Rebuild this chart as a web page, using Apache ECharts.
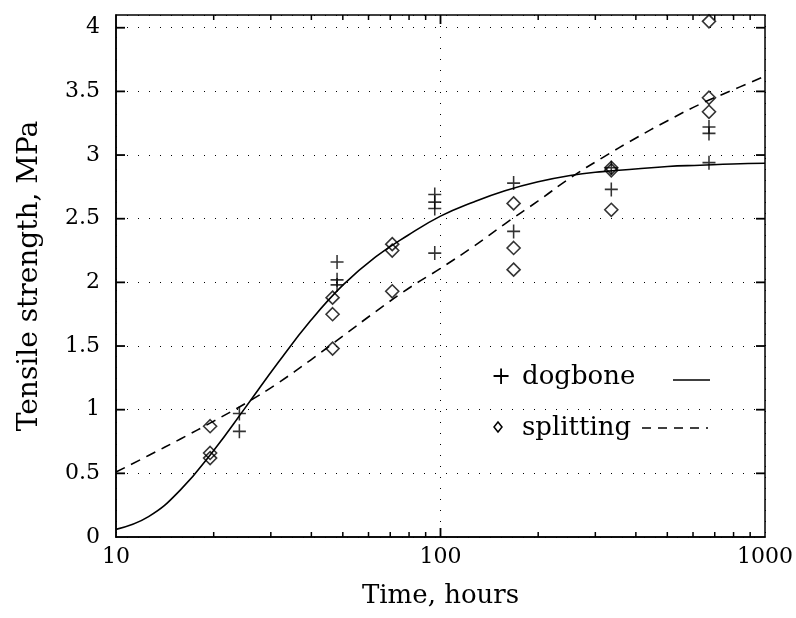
<!DOCTYPE html>
<html><head><meta charset="utf-8">
<script src="https://cdn.jsdelivr.net/npm/echarts@6/dist/echarts.min.js"></script>
<style>html,body{margin:0;padding:0;background:#fff}#c{width:796px;height:618px}</style>
</head><body><div id="c"></div>
<script>
// ---- data ----
const dogboneHours = [24, 24, 48, 48, 48, 96, 96, 96, 96, 168, 168, 336, 336, 672, 672, 672];
const dogboneMPa   = [0.97, 0.83, 2.16, 2.02, 1.98, 2.69, 2.63, 2.58, 2.23, 2.78, 2.40, 2.90, 2.73, 3.22, 3.17, 2.94];
const splittingHours = [19.5, 19.5, 19.5, 46.5, 46.5, 46.5, 71, 71, 71, 168, 168, 168, 336, 336, 336, 672, 672, 672];
const splittingMPa   = [0.87, 0.66, 0.62, 1.88, 1.75, 1.48, 2.30, 2.25, 1.93, 2.62, 2.27, 2.10, 2.90, 2.88, 2.57, 4.05, 3.45, 3.34];
// fitted curves at log-spaced times
const fitHours        = [10, 12.6, 15.8, 20, 25.1, 31.6, 39.8, 50.1, 63.1, 79.4, 100, 126, 158, 200, 251, 316, 398, 501, 631, 794, 1000];
const dogboneFitMPa   = [0.06, 0.16, 0.37, 0.68, 1.02, 1.37, 1.70, 1.98, 2.20, 2.37, 2.52, 2.63, 2.72, 2.79, 2.84, 2.87, 2.89, 2.91, 2.92, 2.93, 2.935];
const splittingFitMPa = [0.51, 0.64, 0.77, 0.91, 1.05, 1.21, 1.39, 1.58, 1.77, 1.95, 2.11, 2.28, 2.46, 2.64, 2.82, 2.98, 3.13, 3.27, 3.40, 3.51, 3.62];
const majorTickHours = [100];
const minorTickHours = [20, 30, 40, 50, 60, 70, 80, 90, 200, 300, 400, 500, 600, 700, 800, 900];
const yTickValues = [0.5, 1, 1.5, 2, 2.5, 3, 3.5, 4];
const xMin = 10, xMax = 1000, yMin = 0, yMax = 4.1, yStep = 0.5;
const xTitle = 'Time, hours';
const yTitle = 'Tensile strength, MPa';
const seriesNames = ['dogbone', 'splitting'];

const zip = (a, b) => a.map((v, i) => [v, b[i]]);
const FONT = 'DejaVu Serif';
const chart = echarts.init(document.getElementById('c'), null, {renderer: 'canvas'});

const plusPath = 'path://M-1,0L1,0M0,-1L0,1';
const diamondPath = 'path://M0,-1L1,0L0,1L-1,0Z';
const dotted = {color: '#000', width: 1, type: [1, 10]};
const black = {color: '#000', width: 1.5};

chart.setOption({
  animation: false,
  backgroundColor: '#fff',
  grid: {left: 116, right: 28, top: 15, bottom: 81, show: true, borderColor: '#000', borderWidth: 1.5, backgroundColor: 'transparent'},
  xAxis: [{
    type: 'log', logBase: 10, min: xMin, max: xMax, position: 'bottom',
    name: xTitle, nameLocation: 'middle', nameGap: 46,
    nameTextStyle: {fontFamily: FONT, fontSize: 26, color: '#000'},
    axisLine: {show: true, lineStyle: black},
    axisTick: {show: false},
    axisLabel: {fontFamily: FONT, fontSize: 22, color: '#000', margin: 9, formatter: v => String(Math.round(v))},
    splitLine: {show: true, lineStyle: dotted}
  }],
  yAxis: [{
    type: 'value', min: yMin, max: yMax, interval: yStep, position: 'left',
    name: yTitle, nameLocation: 'middle', nameGap: 72, nameRotate: 90,
    nameTextStyle: {fontFamily: FONT, fontSize: 28, color: '#000'},
    axisLine: {show: true, lineStyle: black},
    axisTick: {show: false},
    axisLabel: {fontFamily: FONT, fontSize: 22, color: '#000', margin: 16,
      formatter: v => (Math.abs(v / yStep - Math.round(v / yStep)) < 1e-6 ? String(v) : '')},
    splitLine: {show: true, lineStyle: dotted}
  }],
  series: [
    {type: 'line', name: seriesNames[0] + ' fit', data: zip(fitHours, dogboneFitMPa), smooth: 0.45, showSymbol: false,
     lineStyle: {color: '#000', width: 1.6}, z: 3},
    {type: 'line', name: seriesNames[1] + ' fit', data: zip(fitHours, splittingFitMPa), smooth: 0.45, showSymbol: false,
     lineStyle: {color: '#000', width: 1.6, type: [10, 7]}, z: 3},
    {type: 'scatter', name: seriesNames[0], data: zip(dogboneHours, dogboneMPa), symbol: plusPath, symbolSize: [13, 14],
     itemStyle: {color: 'none', borderColor: '#000', borderWidth: 1.6}, z: 4},
    {type: 'scatter', name: seriesNames[1], data: zip(splittingHours, splittingMPa), symbol: diamondPath, symbolSize: [13, 13],
     itemStyle: {color: 'rgba(255,255,255,0)', borderColor: '#000', borderWidth: 1.6}, z: 4}
  ]
});

// ticks placed through the chart's own scales
const X = v => chart.convertToPixel({xAxisIndex: 0}, v);
const Y = v => chart.convertToPixel({yAxisIndex: 0}, v);
const xl = X(xMin), xr = X(xMax), yb = Y(yMin), yt = Y(yMax);
const seg = (x1, y1, x2, y2, w) => ({type: 'line', z: 50, shape: {x1, y1, x2, y2}, style: {stroke: '#000', lineWidth: w}});
const ticks = [];
majorTickHours.forEach(h => { const x = X(h); ticks.push(seg(x, yb, x, yb - 9, 1.8), seg(x, yt, x, yt + 9, 1.8)); });
minorTickHours.forEach(h => { const x = X(h); ticks.push(seg(x, yb, x, yb - 5, 1.5), seg(x, yt, x, yt + 5, 1.5)); });
yTickValues.forEach(v => { const y = Y(v); ticks.push(seg(xl, y, xl + 9, y, 1.8), seg(xr, y, xr - 9, y, 1.8)); });

chart.setOption({
  graphic: ticks.concat([
    {type: 'text', left: 491, top: 366, style: {text: '+', font: '24px "DejaVu Serif"', fill: '#000'}},
    {type: 'text', left: 522, top: 364, style: {text: seriesNames[0], font: '26px "DejaVu Serif"', fill: '#000'}},
    {type: 'line', shape: {x1: 673, y1: 380, x2: 710, y2: 380}, style: {stroke: '#000', lineWidth: 1.6}},
    {type: 'polygon', shape: {points: [[498, 422], [502, 427], [498, 432], [494, 427]]}, style: {fill: 'none', stroke: '#000', lineWidth: 1.5}},
    {type: 'text', left: 522, top: 415, style: {text: seriesNames[1], font: '26px "DejaVu Serif"', fill: '#000'}},
    {type: 'line', shape: {x1: 642, y1: 428, x2: 708, y2: 428}, style: {stroke: '#000', lineWidth: 1.6, lineDash: [9, 7]}}
  ])
});
</script></body></html>
